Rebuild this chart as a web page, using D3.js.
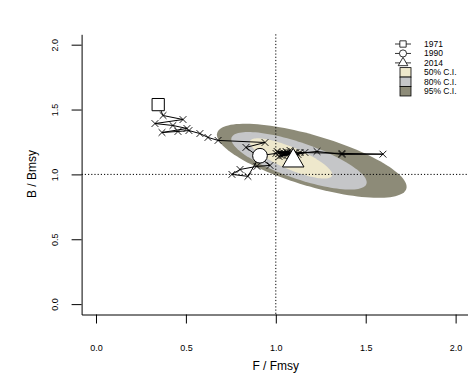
<!DOCTYPE html>
<html>
<head>
<meta charset="utf-8">
<script src="https://cdn.jsdelivr.net/npm/d3@7"></script>
<style>
  html, body { margin: 0; padding: 0; background: #fff; }
  svg text { font-family: "Liberation Sans", Arial, sans-serif; fill: #000; }
</style>
</head>
<body>
<svg id="chart" width="468" height="376"></svg>
<script>
// Stock trajectory, F/Fmsy and B/Bmsy by year
const years = [1971,1972,1973,1974,1975,1976,1977,1978,1979,1980,1981,1982,1983,1984,1985,1986,1987,1988,1989,1990,
               1991,1992,1993,1994,1995,1996,1997,1998,1999,2000,2001,2002,2003,2004,2005,2006,2007,2008,2009,2010,
               2011,2012,2013,2014];
const fRatio = [0.346,0.373,0.484,0.328,0.428,0.506,0.367,0.456,0.517,0.578,0.623,0.679,0.940,0.834,0.968,0.895,0.801,0.756,0.845,0.912,
                1.001,1.040,1.068,1.229,1.368,1.596,1.368,1.135,1.018,1.057,1.090,1.029,1.112,1.007,1.051,1.079,1.040,1.101,1.018,1.062,
                1.123,1.162,1.079,1.097];
const bRatio = [1.538,1.454,1.423,1.392,1.377,1.354,1.323,1.331,1.338,1.315,1.285,1.262,1.246,1.208,1.069,1.062,1.038,1.000,0.985,1.144,
                1.162,1.169,1.154,1.177,1.154,1.156,1.162,1.169,1.162,1.177,1.154,1.146,1.169,1.177,1.162,1.185,1.146,1.162,1.138,1.169,
                1.154,1.169,1.146,1.105];

// Confidence regions for the final year (ellipses: centre, major half-axis, minor half-axis)
const ciLabels  = ["95% C.I.", "80% C.I.", "50% C.I."];
const ciColors  = ["#8d8b78", "#c5c6c8", "#eee8cc"];
const ciCenterF = [1.200, 1.129, 1.085];
const ciCenterB = [1.105, 1.105, 1.123];
const ciMajorF  = [0.526, 0.375, 0.228];
const ciMajorB  = [-0.215, -0.179, -0.134];
const ciMinorF  = [-0.039, -0.033, -0.024];
const ciMinorB  = [-0.188, -0.131, -0.078];

// Axis ticks and titles
const xTicks = [0, 0.5, 1, 1.5, 2];
const yTicks = [0, 0.5, 1, 1.5, 2];
const xTitle = "F / Fmsy";
const yTitle = "B / Bmsy";

// Legend entries
const legendYears  = ["1971", "1990", "2014"];
const legendShapes = ["square", "circle", "triangle"];
const legendCI     = ["50% C.I.", "80% C.I.", "95% C.I."];
const legendCIColors = ["#eee8cc", "#c5c6c8", "#8d8b78"];

const svg = d3.select("#chart");
const x = d3.scaleLinear().domain([-0.08, 2.08]).range([81.6, 470]);
const y = d3.scaleLinear().domain([-0.08, 2.08]).range([314.5, 34.3]);

// CI ellipses, outermost first
const steps = d3.range(0, 121).map(i => i / 120 * 2 * Math.PI);
const ellipseLine = d3.line().x(d => x(d[0])).y(d => y(d[1]));
ciLabels.forEach((lab, i) => {
  const pts = steps.map(t => [
    ciCenterF[i] + ciMajorF[i] * Math.cos(t) + ciMinorF[i] * Math.sin(t),
    ciCenterB[i] + ciMajorB[i] * Math.cos(t) + ciMinorB[i] * Math.sin(t)
  ]);
  svg.append("path").attr("d", ellipseLine(pts) + "Z")
    .attr("fill", ciColors[i]).attr("stroke", "none");
});

// Reference lines at F = Fmsy and B = Bmsy
svg.append("line")
  .attr("x1", x(1)).attr("x2", x(1)).attr("y1", y.range()[1]).attr("y2", y.range()[0])
  .attr("stroke", "#000").attr("stroke-dasharray", "1.2,2").attr("stroke-width", 1);
svg.append("line")
  .attr("x1", x.range()[0]).attr("x2", x.range()[1]).attr("y1", y(1)).attr("y2", y(1))
  .attr("stroke", "#000").attr("stroke-dasharray", "1.2,2").attr("stroke-width", 1);

// Axes
const xAxis = d3.axisBottom(x).tickValues(xTicks).tickFormat(d3.format(".1f"))
  .tickSizeInner(9).tickSizeOuter(0).tickPadding(21);
const gx = svg.append("g").attr("transform", `translate(0,${y.range()[0]})`).call(xAxis);
gx.selectAll("text").style("font-size", "9px");

const yAxis = d3.axisLeft(y).tickValues(yTicks).tickFormat(d3.format(".1f"))
  .tickSizeInner(10).tickSizeOuter(0);
const gy = svg.append("g").attr("transform", `translate(${x.range()[0]},0)`).call(yAxis);
gy.selectAll("text")
  .attr("x", 0).attr("dy", "0.35em").attr("text-anchor", "middle")
  .attr("transform", "translate(-26.6,0) rotate(-90)")
  .style("font-size", "9px");
[gx, gy].forEach(g => {
  g.selectAll("path, line").attr("stroke", "#000").attr("stroke-width", 1);
});

svg.append("text").attr("x", (x.range()[0] + x.range()[1]) / 2).attr("y", 370)
  .attr("text-anchor", "middle").style("font-size", "12px").text(xTitle);
svg.append("text").attr("transform", "translate(36,174) rotate(-90)")
  .attr("text-anchor", "middle").style("font-size", "12px").text(yTitle);

// Trajectory
const traj = years.map((yr, i) => ({ year: yr, f: fRatio[i], b: bRatio[i] }));
svg.append("path")
  .attr("d", d3.line().x(d => x(d.f)).y(d => y(d.b))(traj))
  .attr("fill", "none").attr("stroke", "#000").attr("stroke-width", 1);
svg.append("g").selectAll("path").data(traj).join("path")
  .attr("transform", d => `translate(${x(d.f)},${y(d.b)})`)
  .attr("d", "M-3.4,-3.4L3.4,3.4M-3.4,3.4L3.4,-3.4")
  .attr("stroke", "#000").attr("stroke-width", 0.9).attr("fill", "none");

// Highlighted years
const symbolPath = (shape, size) => {
  const t = { square: d3.symbolSquare, circle: d3.symbolCircle, triangle: d3.symbolTriangle }[shape];
  return d3.symbol().type(t).size(size)();
};
const markYears = legendYears.map(Number);
const markSizes = [150, 170, 200];
markYears.forEach((yr, i) => {
  const d = traj.find(p => p.year === yr);
  svg.append("path")
    .attr("transform", `translate(${x(d.f)},${y(d.b)})`)
    .attr("d", symbolPath(legendShapes[i], markSizes[i]))
    .attr("fill", "#fff").attr("stroke", "#000").attr("stroke-width", 1);
});

// Legend
const lgX = 403, lgY0 = 44, lgStep = 9.45;
const lg = svg.append("g");
legendYears.forEach((lab, i) => {
  const cy = lgY0 + i * lgStep;
  lg.append("line").attr("x1", lgX - 8).attr("x2", lgX + 8).attr("y1", cy).attr("y2", cy)
    .attr("stroke", "#000").attr("stroke-width", 0.8);
  lg.append("path").attr("transform", `translate(${lgX},${cy})`)
    .attr("d", symbolPath(legendShapes[i], 40))
    .attr("fill", "#fff").attr("stroke", "#000").attr("stroke-width", 0.8);
  lg.append("text").attr("x", 424).attr("y", cy).attr("dy", "0.35em")
    .style("font-size", "8.5px").text(lab);
});
legendCI.forEach((lab, i) => {
  const cy = lgY0 + (i + 3) * lgStep;
  lg.append("rect").attr("x", lgX - 3).attr("y", cy - lgStep / 2)
    .attr("width", 11).attr("height", lgStep)
    .attr("fill", legendCIColors[i]).attr("stroke", "#000").attr("stroke-width", 0.8);
  lg.append("text").attr("x", 424).attr("y", cy).attr("dy", "0.35em")
    .style("font-size", "8.5px").text(lab);
});
</script>
</body>
</html>
